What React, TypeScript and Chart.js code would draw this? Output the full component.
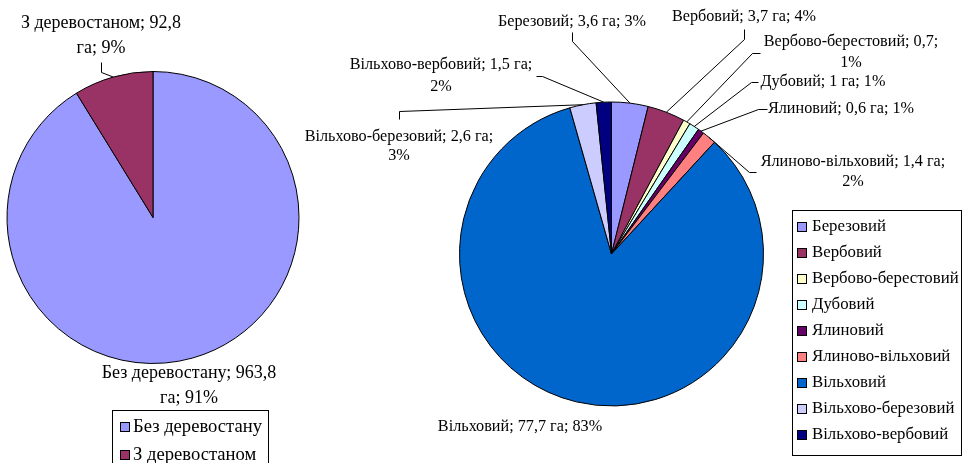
import { useEffect, useRef } from "react";
import { Chart, registerables } from "chart.js";
Chart.register(...registerables);

// ---------- data ----------
const leftCategories = ["Без деревостану", "З деревостаном"];
const leftValues = [963.8, 92.8];
const leftColors = ["#9999FF", "#993366"];
const leftLabelLines = [
  ["Без деревостану; 963,8", "га; 91%"],
  ["З деревостаном; 92,8", "га; 9%"],
];

const rightCategories = [
  "Березовий",
  "Вербовий",
  "Вербово-берестовий",
  "Дубовий",
  "Ялиновий",
  "Ялиново-вільховий",
  "Вільховий",
  "Вільхово-березовий",
  "Вільхово-вербовий",
];
const rightValues = [3.6, 3.7, 0.7, 1, 0.6, 1.4, 77.7, 2.6, 1.5];
const rightColors = [
  "#9999FF",
  "#993366",
  "#FFFFCC",
  "#CCFFFF",
  "#660066",
  "#FF8080",
  "#0066CC",
  "#CCCCFF",
  "#000080",
];
const rightLabelLines = [
  ["Березовий; 3,6 га; 3%"],
  ["Вербовий; 3,7 га; 4%"],
  ["Вербово-берестовий; 0,7;", "1%"],
  ["Дубовий; 1 га; 1%"],
  ["Ялиновий; 0,6 га; 1%"],
  ["Ялиново-вільховий; 1,4 га;", "2%"],
  ["Вільховий; 77,7 га; 83%"],
  ["Вільхово-березовий; 2,6 га;", "3%"],
  ["Вільхово-вербовий; 1,5 га;", "2%"],
];

// ---------- layout ----------
const W = 962;
const H = 463;
const FONT_FAMILY = '"Liberation Serif", "Times New Roman", serif';
const LEFT_FONT = 18;
const RIGHT_FONT = 16.2;

type Stub = { side: "down" | "up" | "left" | "right"; gap: number; len: number } | null;
type LabelPos = { x: number; y: number; lh: number; stub: Stub };

const leftPie = { cx: 153, cy: 217.5, r: 146 };
const rightPie = { cx: 611.5, cy: 254, r: 152 };

const leftLabelPos: LabelPos[] = [
  { x: 189, y: 373, lh: 25, stub: null },
  { x: 101, y: 23, lh: 25, stub: { side: "down", gap: 6, len: 10 } },
];
const rightLabelPos: LabelPos[] = [
  { x: 572, y: 22, lh: 21, stub: { side: "down", gap: 3, len: 9 } },
  { x: 744, y: 17, lh: 21, stub: { side: "down", gap: 5, len: 10 } },
  { x: 851, y: 42, lh: 21, stub: { side: "left", gap: 4, len: 8 } },
  { x: 823, y: 82, lh: 21, stub: { side: "left", gap: 3, len: 7 } },
  { x: 841, y: 109, lh: 21, stub: { side: "left", gap: 1, len: 9 } },
  { x: 853, y: 162, lh: 20, stub: { side: "left", gap: 5, len: 7 } },
  { x: 520, y: 427, lh: 21, stub: null },
  { x: 399, y: 137, lh: 19, stub: { side: "up", gap: 11, len: 8 } },
  { x: 441, y: 65, lh: 22, stub: { side: "right", gap: 4, len: 6 } },
];

const leftLegend = { left: 112.5, top: 410.5, right: 268.5, bottom: 475.5, firstY: 427, step: 28, markerX: 120, textX: 133, marker: 10, font: 18.6 };
const rightLegend = { left: 792.5, top: 210.5, right: 961.5, bottom: 455.5, firstY: 227, step: 26, markerX: 797, textX: 812, marker: 10, font: 16.8 };

function makePlugin(
  lines: string[][],
  pos: LabelPos[],
  fontSize: number,
  legend: typeof leftLegend
) {
  return {
    id: "customLabels",
    afterDraw(chart: any) {
      const ctx: CanvasRenderingContext2D = chart.ctx;
      const meta = chart.getDatasetMeta(0);
      ctx.save();
      ctx.font = `${fontSize}px ${FONT_FAMILY}`;
      ctx.fillStyle = "#000";
      ctx.strokeStyle = "#000";
      ctx.lineWidth = 1;
      ctx.textAlign = "center";
      ctx.textBaseline = "middle";
      meta.data.forEach((arc: any, i: number) => {
        const L = pos[i];
        const ls = lines[i];
        const p = arc.getProps(["x", "y", "startAngle", "endAngle", "outerRadius"], true);
        const mid = (p.startAngle + p.endAngle) / 2;
        const px = p.x + Math.cos(mid) * p.outerRadius;
        const py = p.y + Math.sin(mid) * p.outerRadius;
        ls.forEach((t, k) => ctx.fillText(t, L.x, L.y + k * L.lh));
        if (L.stub) {
          const w = Math.max(...ls.map((t) => ctx.measureText(t).width));
          const half = fontSize * 0.45;
          const top = L.y - half;
          const bottom = L.y + (ls.length - 1) * L.lh + half;
          const cyb = (top + bottom) / 2;
          let x1 = 0, y1 = 0, x2 = 0, y2 = 0;
          const s = L.stub;
          if (s.side === "down") { x1 = x2 = L.x; y1 = bottom + s.gap; y2 = y1 + s.len; }
          if (s.side === "up") { x1 = x2 = L.x; y1 = top - s.gap; y2 = y1 - s.len; }
          if (s.side === "left") { y1 = y2 = cyb; x1 = L.x - w / 2 - s.gap; x2 = x1 - s.len; }
          if (s.side === "right") { y1 = y2 = cyb; x1 = L.x + w / 2 + s.gap; x2 = x1 + s.len; }
          ctx.beginPath();
          ctx.moveTo(Math.round(x1) + 0.5, Math.round(y1) + 0.5);
          ctx.lineTo(Math.round(x2) + 0.5, Math.round(y2) + 0.5);
          ctx.lineTo(px, py);
          ctx.stroke();
        }
      });

      // legend
      const labels: string[] = chart.data.labels;
      const colors: string[] = chart.data.datasets[0].backgroundColor;
      ctx.fillStyle = "#fff";
      ctx.fillRect(legend.left, legend.top, legend.right - legend.left, legend.bottom - legend.top);
      ctx.strokeRect(legend.left, legend.top, legend.right - legend.left, legend.bottom - legend.top);
      ctx.textAlign = "left";
      ctx.font = `${legend.font}px ${FONT_FAMILY}`;
      labels.forEach((lab, i) => {
        const y = legend.firstY + i * legend.step;
        const m = legend.marker;
        const mx = legend.markerX;
        const my = Math.round(y - m / 2);
        ctx.fillStyle = colors[i];
        ctx.fillRect(mx, my, m, m);
        ctx.strokeStyle = "#000";
        ctx.strokeRect(mx + 0.5, my + 0.5, m - 1, m - 1);
        ctx.fillStyle = "#000";
        ctx.fillText(lab, legend.textX, y);
      });
      ctx.restore();
    },
  };
}

function PieCanvas(props: {
  categories: string[];
  values: number[];
  colors: string[];
  lines: string[][];
  pos: LabelPos[];
  pie: { cx: number; cy: number; r: number };
  fontSize: number;
  legend: typeof leftLegend;
}) {
  const ref = useRef<HTMLCanvasElement | null>(null);
  useEffect(() => {
    if (!ref.current) return;
    const { pie } = props;
    const chart = new Chart(ref.current, {
      type: "pie",
      data: {
        labels: props.categories,
        datasets: [
          {
            data: props.values,
            backgroundColor: props.colors,
            borderColor: "#000",
            borderWidth: 1,
            hoverOffset: 0,
            radius: pie.r,
          } as any,
        ],
      },
      options: {
        responsive: false,
        animation: false,
        events: [],
        layout: {
          padding: {
            left: pie.cx - pie.r,
            right: W - (pie.cx + pie.r),
            top: pie.cy - pie.r,
            bottom: H - (pie.cy + pie.r),
          },
        },
        plugins: {
          legend: { display: false },
          tooltip: { enabled: false },
        },
      },
      plugins: [makePlugin(props.lines, props.pos, props.fontSize, props.legend)],
    });
    return () => chart.destroy();
  }, []);
  return (
    <canvas
      ref={ref}
      width={W}
      height={H}
      style={{ position: "absolute", left: 0, top: 0, width: W, height: H }}
    />
  );
}

export default function App() {
  return (
    <div style={{ position: "absolute", left: 0, top: 0, width: W, height: H, background: "#fff", overflow: "hidden" }}>
      <PieCanvas
        categories={leftCategories}
        values={leftValues}
        colors={leftColors}
        lines={leftLabelLines}
        pos={leftLabelPos}
        pie={leftPie}
        fontSize={LEFT_FONT}
        legend={leftLegend}
      />
      <PieCanvas
        categories={rightCategories}
        values={rightValues}
        colors={rightColors}
        lines={rightLabelLines}
        pos={rightLabelPos}
        pie={rightPie}
        fontSize={RIGHT_FONT}
        legend={rightLegend}
      />
    </div>
  );
}
